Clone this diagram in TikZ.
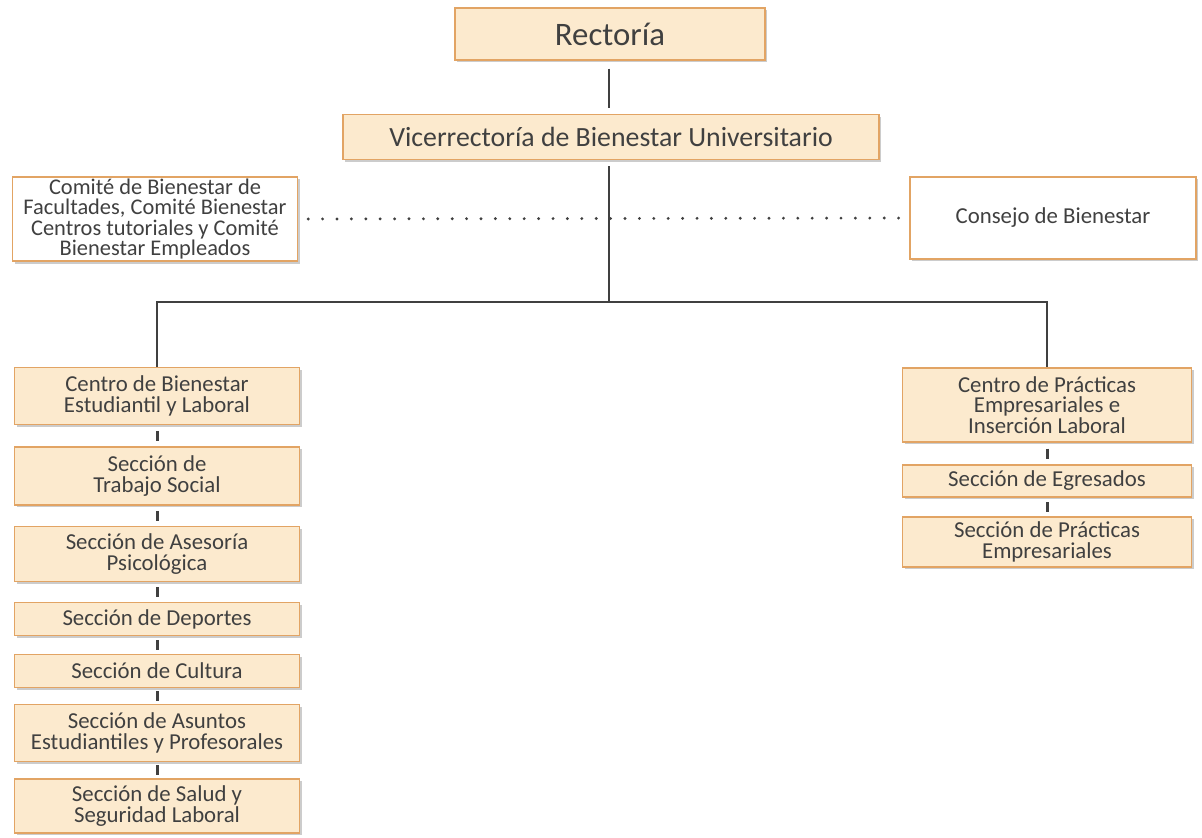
\documentclass[tikz,border=0pt]{standalone}
\usepackage{fontspec}
\setmainfont{Carlito}
\usetikzlibrary{positioning,shadows,calc}
\definecolor{boxfill}{RGB}{252,234,206}
\definecolor{boxline}{RGB}{226,164,100}
\definecolor{ink}{RGB}{64,64,64}
\begin{document}
\begin{tikzpicture}[x=0.5pt,y=-0.5pt,
    font=\fontsize{11.4}{10.2}\selectfont, text=ink,
    unit/.style={draw=boxline, fill=boxfill, line width=0.7pt, align=center,
        inner sep=1pt, drop shadow={shadow xshift=1.2pt, shadow yshift=-1.2pt, fill=black!40, opacity=0.5}},
    council/.style={unit, fill=white},
    tie/.style={draw=ink, line width=0.75pt},
    tick/.style={draw=ink, line width=1.5pt}]
    \useasboundingbox (0,0) rectangle (1202,837);
    % top levels
    \node[unit, minimum width=155pt, minimum height=26pt, font=\fontsize{16.4}{18}\selectfont] (rector) at (610,34) {Rectoría};
    \node[unit, minimum width=268pt, minimum height=22.5pt, font=\fontsize{13.9}{15}\selectfont] (vice) at (611,137) {Vicerrectoría de Bienestar Universitario};
    \node[council, minimum width=142.5pt, minimum height=42pt, font=\fontsize{11.2}{10.2}\selectfont] (comites) at (155,219)
        {Comité de Bienestar de\\Facultades, Comité Bienestar\\Centros tutoriales y Comité\\Bienestar Empleados};
    \node[council, minimum width=143pt, minimum height=41pt] (consejo) at (1053,218) {Consejo de Bienestar};
    % left branch
    \node[unit, minimum width=142.5pt, minimum height=28.5pt] (cbel) at (157,396) {Centro de Bienestar\\Estudiantil y Laboral};
    \node[unit, minimum width=142.5pt, minimum height=29pt] (tsocial) at (157,476) {Sección de\\Trabajo Social};
    \node[unit, minimum width=142.5pt, minimum height=27.5pt] (psico) at (157,554) {Sección de Asesoría\\Psicológica};
    \node[unit, minimum width=142.5pt, minimum height=16.5pt] (deportes) at (157,619) {Sección de Deportes};
    \node[unit, minimum width=142.5pt, minimum height=16.5pt] (cultura) at (157,671) {Sección de Cultura};
    \node[unit, minimum width=142.5pt, minimum height=28.5pt] (asuntos) at (157,733) {Sección de Asuntos\\Estudiantiles y Profesorales};
    \node[unit, minimum width=142.5pt, minimum height=27pt] (salud) at (157,806) {Sección de Salud y\\Seguridad Laboral};
    % right branch
    \node[unit, minimum width=144.5pt, minimum height=37pt, font=\fontsize{11.4}{10.4}\selectfont] (cpe) at (1047,405) {Centro de Prácticas\\Empresariales e\\Inserción Laboral};
    \node[unit, minimum width=144.5pt, minimum height=16pt] (egresados) at (1047,481) {Sección de Egresados};
    \node[unit, minimum width=144.5pt, minimum height=25pt] (practicas) at (1047,542) {Sección de Prácticas\\Empresariales};
    \coordinate (bar) at (609,302);
    % connectors
    \draw[tie, shorten <=4pt, shorten >=3pt] (rector.south -| bar) -- (vice.north -| bar);
    \draw[tie, shorten <=3pt] (vice.south -| bar) -- (bar);
    \draw[tie] (cbel.north) |- (bar) -| (cpe.north);
    \draw[draw=ink, line width=1.6pt, line cap=round, dash pattern=on 0pt off 7.2pt, shorten <=5pt, shorten >=3pt] (comites.east) -- (consejo.west);
    \foreach \a/\b in {cbel/tsocial, tsocial/psico, psico/deportes, deportes/cultura, cultura/asuntos, asuntos/salud, cpe/egresados, egresados/practicas}
        \draw[tick] ($(\a.south)!.5!(\b.north)$) ++(0,-5) -- ++(0,10);
\end{tikzpicture}
\end{document}
